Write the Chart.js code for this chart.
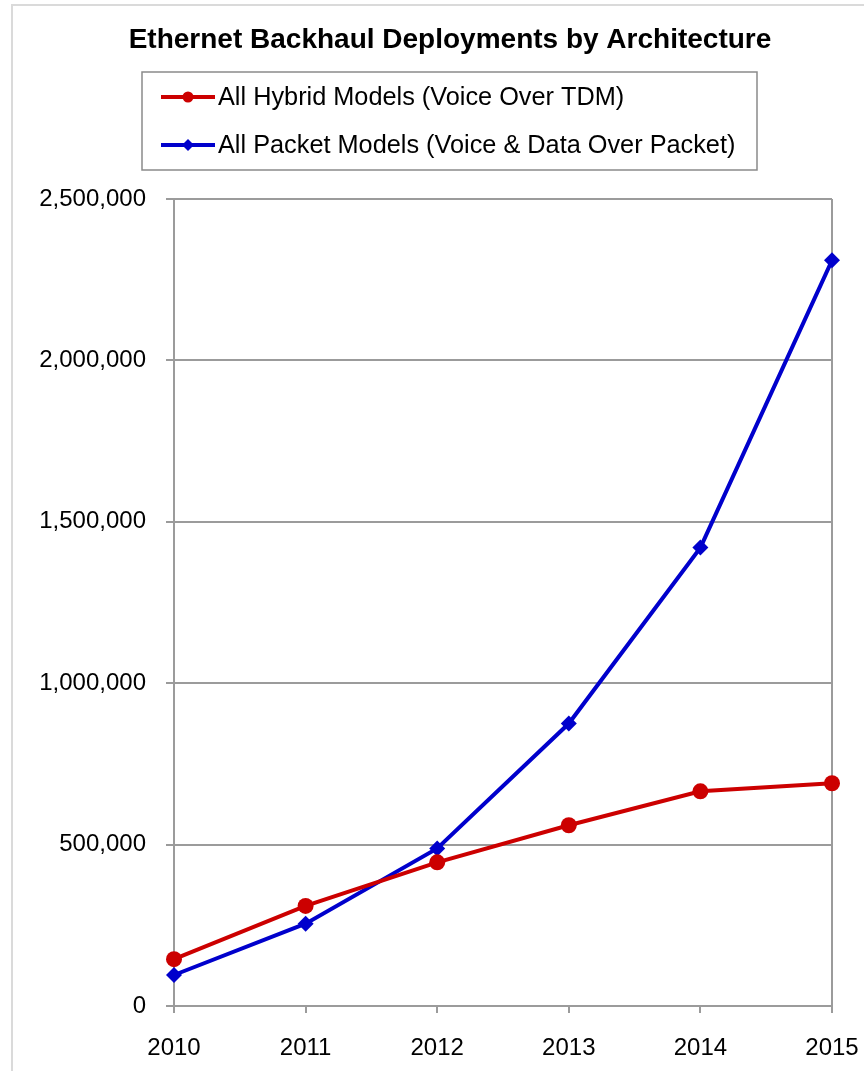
<!DOCTYPE html>
<html lang="en">
<head>
<meta charset="UTF-8">
<title>Ethernet Backhaul Deployments by Architecture</title>
<script src="https://cdn.jsdelivr.net/npm/chart.js"></script>
<style>
  html, body { margin: 0; padding: 0; background: #fff; overflow: hidden; }
  #frame { position: absolute; left: 11px; top: 4px; width: 1000px; height: 1200px; border: 2px solid #dadada; }
  #c { position: absolute; left: 0; top: 0; }
</style>
</head>
<body>
<div id="frame"></div>
<canvas id="c" width="864" height="1071"></canvas>
<script>
// values
const years = ['2010', '2011', '2012', '2013', '2014', '2015'];
const hybridModels = [145000, 310000, 445000, 560000, 665000, 690000];
const packetModels = [96000, 255000, 488000, 875000, 1420000, 2310000];
const yTicks = [0, 500000, 1000000, 1500000, 2000000, 2500000];

const TITLE = 'Ethernet Backhaul Deployments by Architecture';
const FONT = '"Liberation Sans", Arial, sans-serif';
const GRID = '#9b9b9b';

// title + legend box drawn by hand (Excel style legend with line + marker)
const boxLegend = {
    id: 'boxLegend',
    afterDraw(chart) {
        const ctx = chart.ctx;
        ctx.save();
        ctx.fillStyle = '#000';
        ctx.font = 'bold 28px ' + FONT;
        ctx.textAlign = 'center';
        ctx.textBaseline = 'middle';
        ctx.fillText(TITLE, 450, 40);

        ctx.textAlign = 'left';
        ctx.strokeStyle = '#8a8a8a';
        ctx.lineWidth = 1.5;
        ctx.strokeRect(142, 72, 615, 98);
        const rows = [97, 145];
        chart.data.datasets.forEach((ds, i) => {
            const y = rows[i];
            ctx.strokeStyle = ds.borderColor;
            ctx.lineWidth = 4;
            ctx.beginPath();
            ctx.moveTo(161, y);
            ctx.lineTo(215, y);
            ctx.stroke();
            ctx.fillStyle = ds.borderColor;
            ctx.beginPath();
            if (ds.pointStyle === 'circle') {
                ctx.arc(188, y, 5.5, 0, Math.PI * 2);
            } else {
                ctx.moveTo(188, y - 6);
                ctx.lineTo(194, y);
                ctx.lineTo(188, y + 6);
                ctx.lineTo(182, y);
                ctx.closePath();
            }
            ctx.fill();
            ctx.fillStyle = '#000';
            ctx.font = '25.3px ' + FONT;
            ctx.textBaseline = 'middle';
            ctx.fillText(ds.label, 218, y + 1);
        });
        ctx.restore();
    }
};

new Chart(document.getElementById('c'), {
    type: 'line',
    data: {
        labels: years,
        datasets: [
            {
                label: 'All Hybrid Models (Voice Over TDM)',
                data: hybridModels,
                borderColor: '#cc0000',
                backgroundColor: '#cc0000',
                borderWidth: 4,
                pointStyle: 'circle',
                pointRadius: 8,
                pointBorderWidth: 0,
                tension: 0
            },
            {
                label: 'All Packet Models (Voice & Data Over Packet)',
                data: packetModels,
                borderColor: '#0000cc',
                backgroundColor: '#0000cc',
                borderWidth: 4,
                pointStyle: 'rectRot',
                pointRadius: 8,
                pointBorderWidth: 0,
                tension: 0
            }
        ]
    },
    options: {
        responsive: false,
        animation: false,
        layout: { padding: { left: 0, right: 32, top: 199, bottom: 0 } },
        plugins: {
            legend: { display: false },
            tooltip: { enabled: false },
            title: { display: false }
        },
        scales: {
            x: {
                offset: false,
                afterFit: scale => {
                    scale.height = 65;
                    scale.paddingLeft = 0;
                    scale.paddingRight = 0;
                },
                grid: {
                    color: c => c.index === years.length - 1 ? GRID : 'rgba(0,0,0,0)',
                    lineWidth: 2,
                    tickColor: GRID,
                    tickLength: 7
                },
                border: { display: true, color: GRID, width: 2 },
                ticks: {
                    color: '#000',
                    font: { family: FONT, size: 24 },
                    padding: 21,
                    maxRotation: 0
                }
            },
            y: {
                min: 0,
                max: 2500000,
                afterBuildTicks: scale => { scale.ticks = yTicks.map(v => ({ value: v })); },
                afterFit: scale => { scale.width = 174; },
                grid: { color: GRID, lineWidth: 2, tickLength: 8, tickColor: GRID },
                border: { display: true, color: GRID, width: 2 },
                ticks: {
                    color: '#000',
                    font: { family: FONT, size: 24 },
                    padding: 20,
                    callback: v => v.toLocaleString('en-US')
                }
            }
        }
    },
    plugins: [boxLegend]
});
</script>
</body>
</html>
